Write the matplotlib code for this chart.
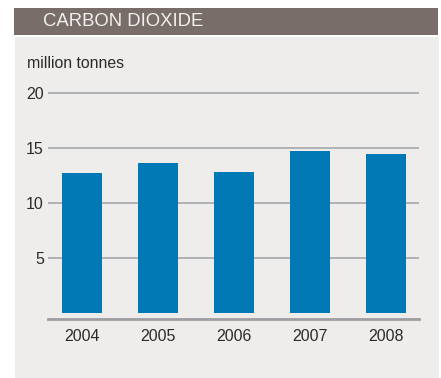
import matplotlib
matplotlib.use("Agg")
import matplotlib.pyplot as plt
from matplotlib.patches import Rectangle

plt.rcParams['font.family'] = ['Liberation Sans', 'DejaVu Sans']

years = ["2004", "2005", "2006", "2007", "2008"]
emissions = [12.7, 13.6, 12.8, 14.7, 14.45]
y_ticks = [5, 10, 15, 20]
title = "CARBON DIOXIDE"
unit_label = "million tonnes"

W, H = 441, 378
fig = plt.figure(figsize=(W / 100, H / 100), dpi=100, facecolor="white")


def fx(px):
    return px / W


def fy(py):
    return 1 - py / H


# header band and light panel
fig.patches.append(Rectangle((fx(14), fy(35)), fx(438) - fx(14), fy(8) - fy(35),
                             transform=fig.transFigure, facecolor="#786d69",
                             edgecolor="none", zorder=-5))
fig.patches.append(Rectangle((fx(15), fy(378)), fx(439) - fx(15), fy(37) - fy(378),
                             transform=fig.transFigure, facecolor="#eeedeb",
                             edgecolor="none", zorder=-5))
fig.text(fx(43), fy(22), title, color="#f2f0ee", fontsize=13.3,
         va="center", ha="left")
fig.text(fx(27), fy(64), unit_label, color="#2b2b2b", fontsize=11.4,
         va="center", ha="left")

# plot area
left_px, right_px, bottom_px, top_px = 48, 419, 319, 87.5
ax = fig.add_axes([fx(left_px), fy(bottom_px),
                   fx(right_px) - fx(left_px), fy(top_px) - fy(bottom_px)])
ax.set_facecolor("none")
ax.set_zorder(2)

x = list(range(len(years)))
ax.bar(x, emissions, width=0.526, color="#0079b5", zorder=3)

ax.set_xlim(-0.447, 4.434)
ax.set_ylim(-0.545, 20.5)
ax.set_yticks(y_ticks)
ax.set_yticklabels([str(t) for t in y_ticks])
ax.set_xticks(x)
ax.set_xticklabels(years)
for t in y_ticks:
    ax.axhline(t, color="#a5a7aa", lw=1.2, zorder=1)

for side in ["top", "right", "left"]:
    ax.spines[side].set_visible(False)
ax.spines["bottom"].set_color("#9c9ea1")
ax.spines["bottom"].set_linewidth(2.0)

ax.tick_params(axis="both", length=0, labelsize=11.5, colors="#2b2b2b")
ax.tick_params(axis="x", pad=7)
ax.tick_params(axis="y", pad=3)

fig.savefig("out.png", dpi=100, facecolor="white")
